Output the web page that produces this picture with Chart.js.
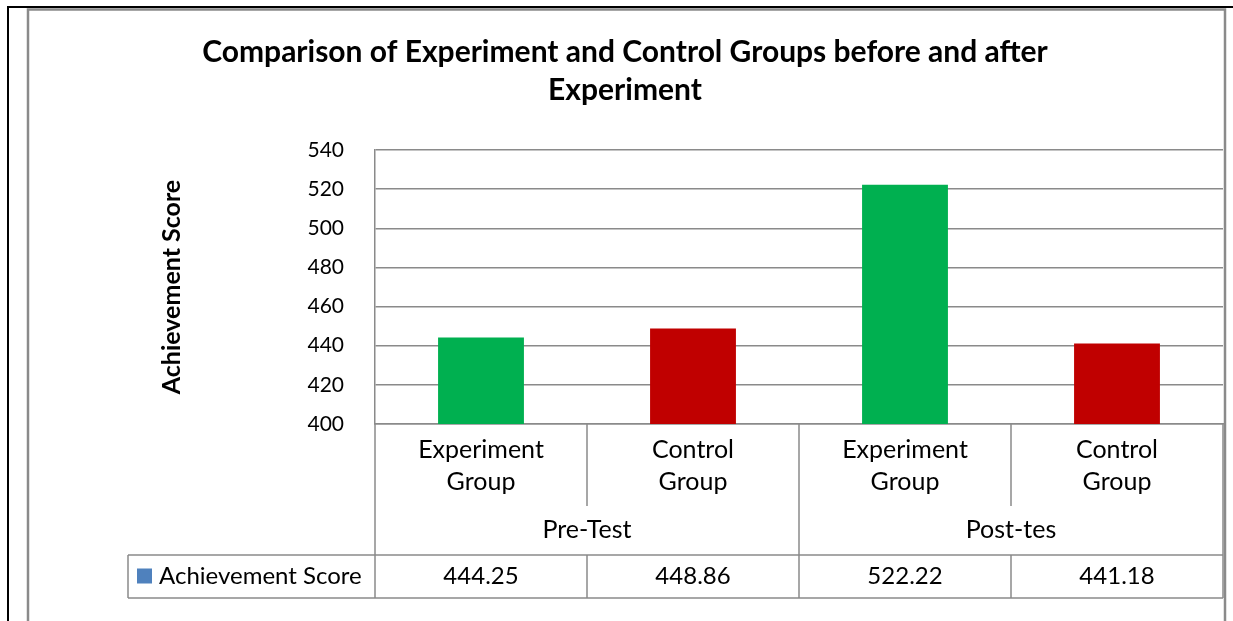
<!DOCTYPE html>
<html>
<head>
<meta charset="utf-8">
<script src="https://cdn.jsdelivr.net/npm/chart.js@4.4.1/dist/chart.umd.min.js"></script>
<style>
  html, body { margin: 0; padding: 0; background: #fff; }
  #grafico { display: block; }
</style>
</head>
<body>
<canvas id="grafico" width="1233" height="621"></canvas>
<script>
// dados
const rotulosCategorias = [['Experiment', 'Group'], ['Control', 'Group'], ['Experiment', 'Group'], ['Control', 'Group']];
const grupos = ['Pre-Test', 'Post-tes'];
const valores = [444.25, 448.86, 522.22, 441.18];
const cores = ['#00B050', '#C00000', '#00B050', '#C00000'];
const ticksY = [400, 420, 440, 460, 480, 500, 520, 540];
const nomeSerie = 'Achievement Score';

const fonte = 'Lato, "Open Sans", sans-serif';
const cinza = '#8a8a8a';

const pluginTabela = {
  id: 'tabelaDados',
  beforeDraw(chart) {
    const ctx = chart.ctx;
    ctx.save();
    ctx.fillStyle = '#fff';
    ctx.fillRect(0, 0, chart.width, chart.height);
    // moldura da pagina
    ctx.strokeStyle = '#000';
    ctx.lineWidth = 2;
    ctx.beginPath();
    ctx.moveTo(8, chart.height);
    ctx.lineTo(8, 7);
    ctx.lineTo(chart.width, 7);
    ctx.stroke();
    // borda do grafico
    ctx.strokeStyle = cinza;
    ctx.lineWidth = 2.5;
    ctx.strokeRect(28, 9.5, 1197, chart.height + 10);
    ctx.restore();
  },
  afterDraw(chart) {
    const ctx = chart.ctx;
    const x = chart.scales.x;
    const base = chart.chartArea.bottom;
    const meia = (x.getPixelForValue(1) - x.getPixelForValue(0)) / 2;
    const fimTicks = base + 82;
    const grupoY = base + 106;
    const topoTabela = base + 131;
    const baseTabela = base + 174;
    const esquerdaTabela = 128;
    const direita = x.getPixelForValue(valores.length - 1) + meia;

    ctx.save();
    ctx.strokeStyle = cinza;
    ctx.lineWidth = 1.5;
    ctx.beginPath();
    // divisorias das categorias
    valores.forEach((v, i) => {
      const bx = x.getPixelForValue(i) - meia;
      if (i % 2 === 1) {
        ctx.moveTo(bx, base);
        ctx.lineTo(bx, fimTicks);
        ctx.moveTo(bx, topoTabela);
        ctx.lineTo(bx, baseTabela);
      } else {
        ctx.moveTo(bx, base);
        ctx.lineTo(bx, baseTabela);
      }
    });
    ctx.moveTo(direita, base);
    ctx.lineTo(direita, baseTabela);
    // linhas da tabela
    ctx.moveTo(esquerdaTabela, topoTabela);
    ctx.lineTo(direita, topoTabela);
    ctx.moveTo(esquerdaTabela, baseTabela);
    ctx.lineTo(direita, baseTabela);
    ctx.moveTo(esquerdaTabela, topoTabela);
    ctx.lineTo(esquerdaTabela, baseTabela);
    ctx.stroke();

    ctx.fillStyle = '#000';
    ctx.textAlign = 'center';
    ctx.textBaseline = 'middle';
    ctx.font = '25px ' + fonte;
    // rotulos dos grupos
    grupos.forEach((g, i) => {
      const gx = (x.getPixelForValue(i * 2) + x.getPixelForValue(i * 2 + 1)) / 2;
      ctx.fillText(g, gx, grupoY);
    });
    // valores da tabela
    const meioLinha = (topoTabela + baseTabela) / 2;
    ctx.font = '24px ' + fonte;
    valores.forEach((v, i) => {
      ctx.fillText(v.toFixed(2), x.getPixelForValue(i), meioLinha);
    });
    // legenda
    ctx.fillStyle = '#4F81BD';
    ctx.fillRect(137, meioLinha - 8, 15, 15);
    ctx.fillStyle = '#000';
    ctx.textAlign = 'left';
    ctx.fillText(nomeSerie, 159, meioLinha);
    ctx.restore();
  }
};

const ctx = document.getElementById('grafico').getContext('2d');
new Chart(ctx, {
  type: 'bar',
  data: {
    labels: rotulosCategorias,
    datasets: [{
      label: nomeSerie,
      data: valores,
      backgroundColor: cores,
      barPercentage: 0.405,
      categoryPercentage: 1
    }]
  },
  options: {
    responsive: false,
    animation: false,
    layout: { padding: { top: 9, left: 27, right: 10, bottom: 115 } },
    scales: {
      x: {
        ticks: { font: { family: fonte, size: 25, lineHeight: 1.28 }, color: '#000', padding: 2, maxRotation: 0, autoSkip: false },
        grid: { display: false },
        border: { color: cinza, width: 1.5 },
        afterFit(s) { s.height = 82; }
      },
      y: {
        min: ticksY[0],
        max: ticksY[ticksY.length - 1],
        afterBuildTicks(s) { s.ticks = ticksY.map(v => ({ value: v })); },
        ticks: { font: { family: fonte, size: 21 }, color: '#000', padding: 31 },
        grid: { color: cinza, lineWidth: 1.5, drawTicks: false },
        border: { color: cinza, width: 1.5 },
        title: {
          display: true,
          text: 'Achievement Score',
          color: '#000',
          font: { family: fonte, size: 25, weight: 'bold' },
          padding: { top: 130 }
        },
        afterFit(s) { s.width = 348; }
      }
    },
    plugins: {
      legend: { display: false },
      tooltip: { enabled: false },
      title: {
        display: true,
        text: ['Comparison of Experiment and Control Groups before and after', 'Experiment'],
        color: '#000',
        font: { family: fonte, size: 30, weight: 'bold', lineHeight: 1.267 },
        padding: { top: 24, bottom: 41 }
      }
    }
  },
  plugins: [pluginTabela]
});
</script>
</body>
</html>
